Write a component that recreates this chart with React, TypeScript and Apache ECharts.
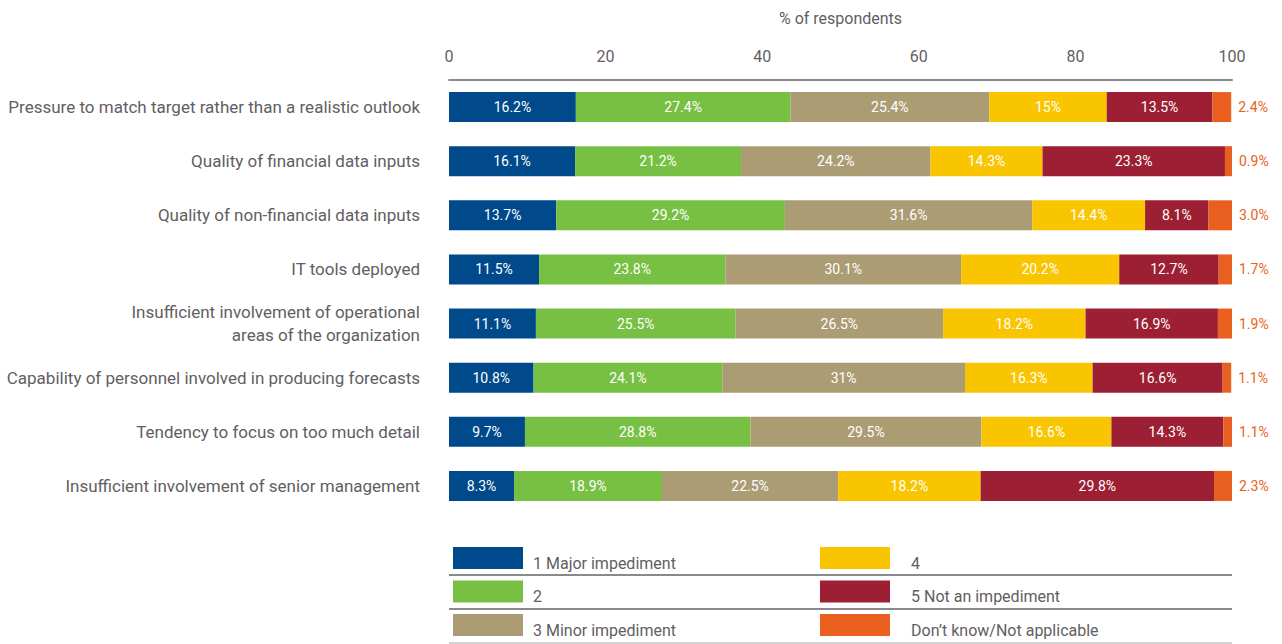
import React, { useEffect, useRef } from "react";
import * as echarts from "echarts";

const categories = [
  "Pressure to match target rather than a realistic outlook",
  "Quality of financial data inputs",
  "Quality of non-financial data inputs",
  "IT tools deployed",
  "Insufficient involvement of operational\nareas of the organization",
  "Capability of personnel involved in producing forecasts",
  "Tendency to focus on too much detail",
  "Insufficient involvement of senior management",
];

const seriesNames = [
  "1 Major impediment",
  "2",
  "3 Minor impediment",
  "4",
  "5 Not an impediment",
  "Don\u2019t know/Not applicable",
];

const major = [16.2, 16.1, 13.7, 11.5, 11.1, 10.8, 9.7, 8.3];
const two = [27.4, 21.2, 29.2, 23.8, 25.5, 24.1, 28.8, 18.9];
const minor = [25.4, 24.2, 31.6, 30.1, 26.5, 31, 29.5, 22.5];
const four = [15, 14.3, 14.4, 20.2, 18.2, 16.3, 16.6, 18.2];
const notImp = [13.5, 23.3, 8.1, 12.7, 16.9, 16.6, 14.3, 29.8];
const dontKnow = [2.4, 0.9, 3.0, 1.7, 1.9, 1.1, 1.1, 2.3];

const xTicks = [0, 20, 40, 60, 80, 100];

const colors = ["#004A8C", "#77C043", "#AC9C74", "#F8C500", "#9C1F33", "#E95F20"];

const FONT = "Roboto, 'Liberation Sans', sans-serif";
const GRAY = "#5f6062";

export default function App() {
  const ref = useRef<HTMLDivElement>(null);

  useEffect(() => {
    if (!ref.current) return;
    const chart = echarts.init(ref.current, undefined, { renderer: "svg" });
    const values = [major, two, minor, four, notImp, dontKnow];

    const series = values.map((vals, i) => {
      const last = i === values.length - 1;
      return {
        name: seriesNames[i],
        type: "bar",
        stack: "total",
        barWidth: 30,
        itemStyle: { color: colors[i] },
        data: vals,
        label: {
          show: true,
          position: last ? "right" : "inside",
          distance: 7,
          color: last ? "#E95F20" : "#ffffff",
          fontFamily: FONT,
          fontSize: 14,
          formatter: (p: any) =>
            last ? `${Number(p.value).toFixed(1)}%` : `${p.value}%`,
        },
      };
    });

    const legendCommon = {
      orient: "vertical",
      top: 547,
      itemWidth: 70,
      itemHeight: 22,
      itemGap: 9.5,
      padding: 0,
      icon: "rect",
      selectedMode: false,
      formatter: (name: string) => `{t|${name}}`,
    };
    const legendText = (padLeft: number) => ({
      color: GRAY,
      fontFamily: FONT,
      fontSize: 16,
      rich: {
        t: {
          color: GRAY,
          fontFamily: FONT,
          fontSize: 16,
          padding: [10, 0, 0, padLeft],
        },
      },
    });

    const lineYs = [575, 609, 643];
    const lineColors = ["#8a8a8c", "#8a8a8c", "#c4c4c6"];

    chart.setOption({
      animation: false,
      textStyle: { fontFamily: FONT },
      grid: { left: 449, right: 50, top: 80, bottom: 131, containLabel: false },
      xAxis: {
        type: "value",
        position: "top",
        min: xTicks[0],
        max: xTicks[xTicks.length - 1],
        interval: 20,
        name: "% of respondents",
        nameLocation: "middle",
        nameGap: 54,
        nameTextStyle: { color: GRAY, fontSize: 16, fontFamily: FONT },
        axisLine: { show: true, lineStyle: { color: "#8a8a8c", width: 2 } },
        axisTick: { show: false },
        splitLine: { show: false },
        axisLabel: {
          color: GRAY,
          fontSize: 16,
          fontFamily: FONT,
          margin: 16,
          formatter: (v: number) => (xTicks.includes(v) ? String(v) : ""),
        },
      },
      yAxis: {
        type: "category",
        inverse: true,
        data: categories,
        axisLine: { show: false },
        axisTick: { show: false },
        axisLabel: {
          color: GRAY,
          fontSize: 17,
          fontFamily: FONT,
          margin: 29,
          lineHeight: 23,
          align: "right",
        },
      },
      legend: [
        { ...legendCommon, left: 453, data: seriesNames.slice(0, 3), textStyle: legendText(5) },
        { ...legendCommon, left: 820, data: seriesNames.slice(3), textStyle: legendText(16) },
      ],
      graphic: lineYs.map((y, i) => ({
        type: "line",
        shape: { x1: 449, y1: y, x2: 1232, y2: y },
        style: { stroke: lineColors[i], lineWidth: i < 2 ? 2 : 1.5 },
        silent: true,
      })),
      series,
    });

    return () => chart.dispose();
  }, []);

  return (
    <div
      ref={ref}
      style={{ position: "fixed", left: 0, top: 0, width: 1282, height: 644, background: "#fff" }}
    />
  );
}
